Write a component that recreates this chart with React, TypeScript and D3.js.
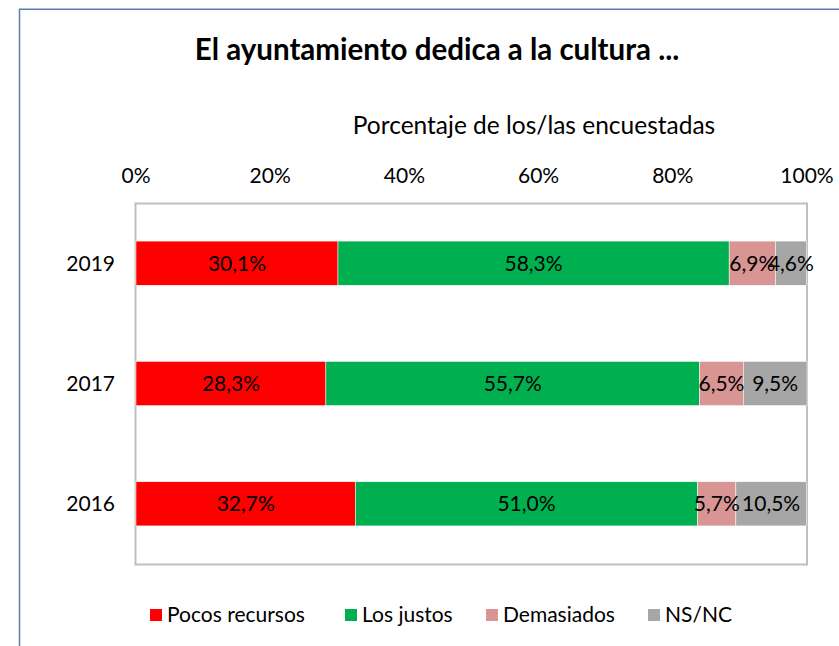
import React from "react";
import * as d3 from "d3";

const years = ["2019", "2017", "2016"];
const seriesNames = ["Pocos recursos", "Los justos", "Demasiados", "NS/NC"];
const seriesColors = ["#FF0000", "#00B050", "#D99594", "#A6A6A6"];
const pocos = [30.1, 28.3, 32.7];
const justos = [58.3, 55.7, 51.0];
const demasiados = [6.9, 6.5, 5.7];
const nsnc = [4.6, 9.5, 10.5];
const xTicks = [0, 20, 40, 60, 80, 100];

const W = 839;
const H = 646;
const plot = { left: 136, right: 807, top: 203, bottom: 564 };
const font = "Lato, 'Open Sans', sans-serif";

export default function App() {
  const x = d3.scaleLinear().domain([0, 100]).range([plot.left, plot.right]);
  const y = d3
    .scaleBand<string>()
    .domain(years)
    .range([plot.top, plot.bottom])
    .paddingInner(0.633)
    .paddingOuter(0.3165);
  const seriesValues = [pocos, justos, demasiados, nsnc];
  const rows = years.map((yr, i) => {
    let acc = 0;
    return seriesValues.map((vals, s) => {
      const v = vals[i];
      const seg = { s, x0: acc, x1: acc + v, v, yr };
      acc += v;
      return seg;
    });
  });
  const fmt = (v: number) => v.toFixed(1).replace(".", ",") + "%";
  const legendX = [150, 345, 486, 648];

  return (
    <svg
      width={W}
      height={H}
      style={{ position: "absolute", left: 0, top: 0 }}
      fontFamily={font}
    >
      <rect x={0} y={0} width={W} height={H} fill="#fff" />
      <line x1={19.5} y1={9} x2={19.5} y2={H} stroke="#5b7db5" strokeWidth={1.5} />
      <line x1={19} y1={9.25} x2={W} y2={9.25} stroke="#5b7db5" strokeWidth={1.5} />
      <text
        x={437}
        y={60}
        textAnchor="middle"
        fontSize={29.5}
        fontWeight="bold"
        fill="#000"
      >
        El ayuntamiento dedica a la cultura ...
      </text>
      <text x={534} y={134} textAnchor="middle" fontSize={24.5} fill="#000">
        Porcentaje de los/las encuestadas
      </text>
      {xTicks.map((t) => (
        <text key={t} x={x(t)} y={183} textAnchor="middle" fontSize={21} fill="#000">
          {t}%
        </text>
      ))}
      <rect
        x={plot.left - 0.5}
        y={plot.top + 0.5}
        width={plot.right - plot.left + 0.5}
        height={plot.bottom - plot.top}
        fill="none"
        stroke="#BFBFBF"
        strokeWidth={2}
      />
      {rows.map((segs, i) => (
        <g key={years[i]}>
          <text
            x={115}
            y={(y(years[i]) as number) + y.bandwidth() / 2 + 7.5}
            textAnchor="end"
            fontSize={21}
            fill="#000"
          >
            {years[i]}
          </text>
          {segs.map((sg) => (
            <rect
              key={sg.s}
              x={x(sg.x0)}
              y={y(sg.yr)}
              width={x(sg.x1) - x(sg.x0)}
              height={y.bandwidth()}
              fill={seriesColors[sg.s]}
              stroke="#fff"
              strokeWidth={0.5}
            />
          ))}
          {segs.map((sg) => (
            <text
              key={"l" + sg.s}
              x={(x(sg.x0) + x(sg.x1)) / 2}
              y={(y(sg.yr) as number) + y.bandwidth() / 2 + 7.5}
              textAnchor="middle"
              fontSize={21}
              fill="#000"
            >
              {fmt(sg.v)}
            </text>
          ))}
        </g>
      ))}
      {seriesNames.map((n, i) => (
        <g key={n}>
          <rect x={legendX[i]} y={609} width={12} height={12} fill={seriesColors[i]} />
          <text x={legendX[i] + 17} y={622} fontSize={21} fill="#000">
            {n}
          </text>
        </g>
      ))}
    </svg>
  );
}
